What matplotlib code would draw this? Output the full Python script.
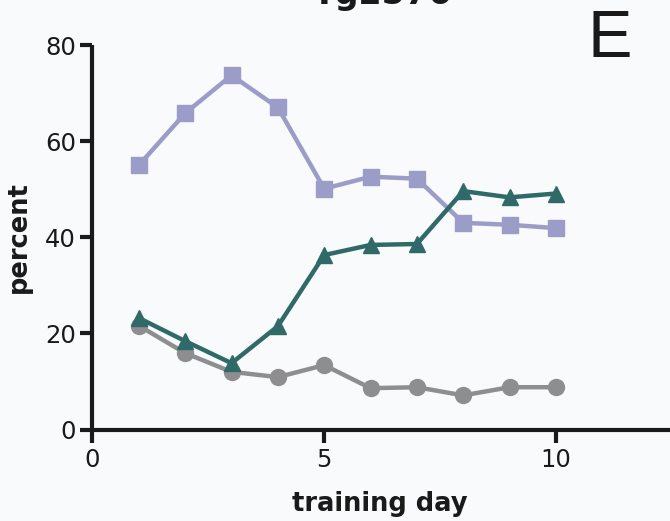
import matplotlib
matplotlib.use("Agg")
import matplotlib.pyplot as plt
from matplotlib import font_manager

days = [1, 2, 3, 4, 5, 6, 7, 8, 9, 10]
square_series = [55.0, 65.8, 73.7, 67.0, 50.1, 52.6, 52.2, 43.0, 42.6, 41.9]
triangle_series = [23.2, 18.4, 13.8, 21.5, 36.3, 38.4, 38.6, 49.6, 48.3, 49.1]
circle_series = [21.6, 15.9, 12.0, 10.9, 13.4, 8.6, 8.8, 7.1, 8.8, 8.8]
x_ticks = [0, 5, 10]
y_ticks = [0, 20, 40, 60, 80]

bg = "#f8fafc"
ink = "#1a1a1a"
plt.rcParams["font.family"] = ["DejaVu Sans"]

installed = {f.name for f in font_manager.fontManager.ttflist}
panel_family = ["Liberation Sans Narrow", "Liberation Sans"] \
    if "Liberation Sans Narrow" in installed else ["Liberation Sans"]

fig = plt.figure(figsize=(6.70, 5.21), dpi=100, facecolor=bg)
ax = fig.add_axes([0.138, 0.1756, 0.862, 0.738], facecolor=bg)

ax.plot(days, circle_series, color="#8e8e90", lw=3.2, marker="o", ms=11.5,
        clip_on=False, zorder=3)
ax.plot(days, square_series, color="#9c9cc8", lw=3.2, marker="s", ms=12,
        clip_on=False, zorder=3)
ax.plot(days, triangle_series, color="#2f6a68", lw=3.2, marker="^", ms=12,
        clip_on=False, zorder=4)

ax.set_xlim(0, 12.46)
ax.set_ylim(0, 80)
ax.set_xticks(x_ticks)
ax.set_yticks(y_ticks)

for side in ("top", "right"):
    ax.spines[side].set_visible(False)
for side in ("left", "bottom"):
    ax.spines[side].set_linewidth(3.0)
    ax.spines[side].set_color(ink)
    ax.spines[side].set_capstyle("butt")

ax.tick_params(axis="both", direction="out", length=9, width=3.0,
               color=ink, labelsize=17.5, labelcolor=ink)
ax.tick_params(axis="y", pad=3)
ax.tick_params(axis="x", pad=4)

ax.set_ylabel("percent", fontsize=18.5, fontweight="bold", color=ink)
ax.set_xlabel("training day", fontsize=18.5, fontweight="bold", color=ink)
ax.yaxis.set_label_coords(-0.105, 0.5)
ax.xaxis.set_label_coords(0.497, -0.16)

fig.text(383 / 670, 1 - 4 / 521, "Tg2576", fontsize=24, fontweight="bold",
         ha="center", va="baseline", color=ink)
fig.text(610 / 670, 1 - 57 / 521, "E", fontsize=48, fontweight="normal",
         family=panel_family, ha="center", va="baseline", color=ink)

fig.savefig("out.png", dpi=100, facecolor=bg)
